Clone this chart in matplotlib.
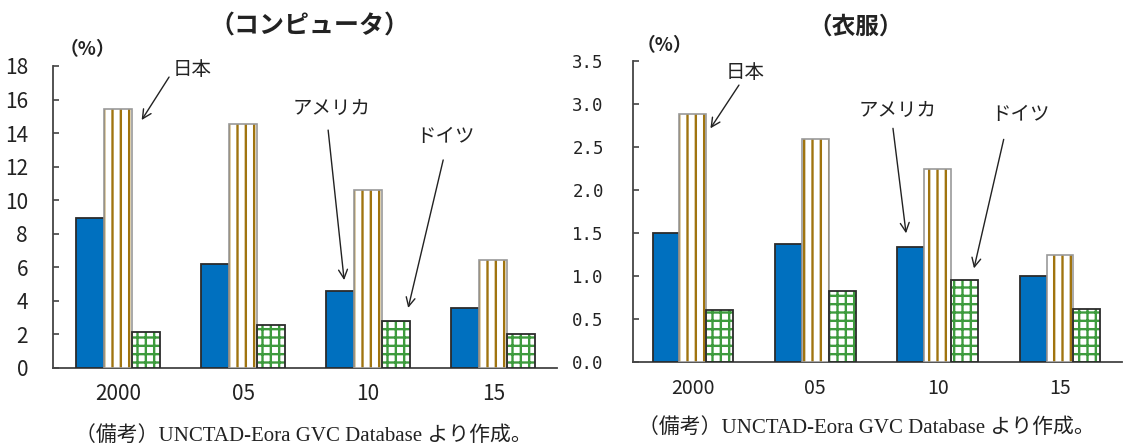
import matplotlib
matplotlib.use("Agg")
import matplotlib.pyplot as plt
import numpy as np

# ---- data -------------------------------------------------------------
years = ["2000", "05", "10", "15"]
country_labels = ["アメリカ", "日本", "ドイツ"]

computer_us = [8.95, 6.2, 4.6, 3.55]
computer_jp = [15.45, 14.55, 10.6, 6.45]
computer_de = [2.15, 2.55, 2.8, 2.0]
computer_ticks = [0, 2, 4, 6, 8, 10, 12, 14, 16, 18]

apparel_us = [1.5, 1.37, 1.34, 1.0]
apparel_jp = [2.88, 2.59, 2.24, 1.25]
apparel_de = [0.61, 0.83, 0.96, 0.62]
apparel_ticks = [0.0, 0.5, 1.0, 1.5, 2.0, 2.5, 3.0, 3.5]

# ---- style ------------------------------------------------------------
plt.rcParams["font.family"] = ["Noto Sans CJK JP", "DejaVu Sans"]
plt.rcParams["hatch.linewidth"] = 1.7

BLUE = "#0070BF"
GOLD = "#A0740F"
GREEN = "#3D9B3D"
DARK = "#2b2b2b"
AXIS = "#444444"
CJK = ["Noto Sans CJK JP", "DejaVu Sans"]
NUM_FONT = ["Liberation Sans Narrow", "Noto Sans CJK JP", "DejaVu Sans"]

W, H = 1125, 445
fig = plt.figure(figsize=(W / 100, H / 100), dpi=100)


def px_axes(x0, x1, ytop, ybot):
    return fig.add_axes([x0 / W, 1 - ybot / H, (x1 - x0) / W, (ybot - ytop) / H])


def draw_panel(ax, us, jp, de, ticks, width, xlim, ylabel_font, ylabel_size, ypad,
               ticklabels, xlabel_size, xpad):
    x = np.arange(len(years))
    ax.bar(x - width, us, width, color=BLUE, edgecolor=DARK, linewidth=1.3, zorder=3)
    # striped bars: hatch layer, then outline
    ax.bar(x, jp, width, color="white", edgecolor=GOLD, linewidth=0, hatch="||", zorder=3)
    ax.bar(x, jp, width, fill=False, edgecolor="#9A9A9A", linewidth=1.2, zorder=4)
    ax.bar(x + width, de, width, color="white", edgecolor=GREEN, linewidth=0, hatch="++",
           zorder=3)
    ax.bar(x + width, de, width, fill=False, edgecolor=DARK, linewidth=1.3, zorder=4)

    ax.set_xlim(*xlim)
    ax.set_ylim(ticks[0], ticks[-1])
    ax.set_yticks(ticks)
    ax.set_yticklabels(ticklabels, fontfamily=ylabel_font, fontsize=ylabel_size,
                       color="#222222")
    ax.set_xticks(x)
    ax.set_xticklabels(years, fontfamily=NUM_FONT, fontsize=xlabel_size, color="#222222")
    ax.tick_params(axis="x", length=0, pad=xpad)
    ax.tick_params(axis="y", direction="in", length=4, width=1.2, color=AXIS, pad=ypad)
    for side in ("top", "right"):
        ax.spines[side].set_visible(False)
    for side in ("left", "bottom"):
        ax.spines[side].set_color(AXIS)
        ax.spines[side].set_linewidth(1.3)


def label_arrow(ax, text, text_xy, start, tip):
    ax.text(*text_xy, text, ha="center", va="center", fontsize=14, family=CJK,
            color="#222222", clip_on=False)
    ax.annotate("", xy=tip, xytext=start, annotation_clip=False,
                arrowprops=dict(arrowstyle="->", lw=1.0, color="#222222",
                                shrinkA=0, shrinkB=0, mutation_scale=16))


# ---- left panel: computers --------------------------------------------
ax1 = px_axes(53, 557, 66, 368)
draw_panel(ax1, computer_us, computer_jp, computer_de, computer_ticks, 0.224,
           (-0.52, 3.51), NUM_FONT, 15, 18, [str(t) for t in computer_ticks], 15, 11)
label_arrow(ax1, country_labels[1], (0.59, 17.82), (0.408, 17.34), (0.189, 14.78))
label_arrow(ax1, country_labels[0], (1.704, 15.49), (1.68, 14.18), (1.808, 5.24))
label_arrow(ax1, country_labels[2], (2.616, 13.77), (2.6, 12.4), (2.32, 3.58))

# ---- right panel: apparel ---------------------------------------------
ax2 = px_axes(633, 1122, 60.7, 362.3)
draw_panel(ax2, apparel_us, apparel_jp, apparel_de, apparel_ticks, 0.22,
           (-0.49, 3.507), ["DejaVu Sans Mono"], 12.5, 21,
           [f"{t:.1f}" for t in apparel_ticks], 14, 11)
label_arrow(ax2, country_labels[1], (0.425, 3.367), (0.376, 3.217), (0.143, 2.715))
label_arrow(ax2, country_labels[0], (1.675, 2.919), (1.635, 2.715), (1.742, 1.497))
label_arrow(ax2, country_labels[2], (2.679, 2.88), (2.54, 2.587), (2.297, 1.09))

# ---- titles, units, notes ----------------------------------------------
fig.text(309 / W, 1 - 26 / H, "（コンピュータ）", ha="center", va="center",
         fontsize=18, fontweight="bold", family=CJK, color="#222222")
fig.text(856 / W, 1 - 27 / H, "（衣服）", ha="center", va="center",
         fontsize=17, fontweight="bold", family=CJK, color="#222222")
fig.text(87 / W, 1 - 50 / H, "（%）", ha="center", va="center", fontsize=13.5,
         fontweight="bold", family=CJK, color="#222222")
fig.text(664 / W, 1 - 46 / H, "（%）", ha="center", va="center", fontsize=13.5,
         fontweight="bold", family=CJK, color="#222222")

note = "（備考）UNCTAD-Eora GVC Database より作成。"
NOTE_FONT = ["Liberation Serif", "Noto Sans CJK JP"]
fig.text(303 / W, 1 - 436 / H, note, ha="center", va="center", fontsize=15,
         family=NOTE_FONT, color="#222222")
fig.text(866 / W, 1 - 428 / H, note, ha="center", va="center", fontsize=15,
         family=NOTE_FONT, color="#222222")

fig.savefig("out.png", dpi=100, facecolor="white")
